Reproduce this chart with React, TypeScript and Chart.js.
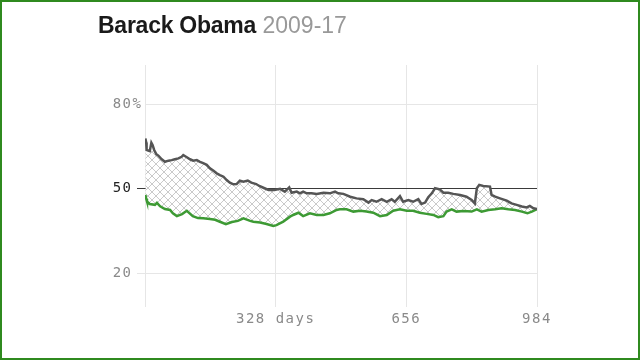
import React, { useEffect, useRef } from 'react';
import { Chart, registerables } from 'chart.js';

Chart.register(...registerables);

const titleName = 'Barack Obama';
const titleYears = '2009-17';

const approveDays = [1, 3, 4, 8, 12, 16, 19, 23, 28, 34, 42, 50, 59, 67, 75, 84, 92, 96, 105, 113, 121, 130, 138, 146, 155, 163, 172, 180, 188, 197, 205, 213, 222, 230, 238, 247, 258, 267, 279, 287, 300, 310, 325, 339, 351, 362, 368, 381, 389, 397, 406, 418, 431, 448, 464, 477, 485, 498, 515, 531, 548, 561, 569, 581, 594, 607, 619, 627, 640, 648, 661, 673, 686, 694, 703, 711, 720, 728, 740, 749, 761, 774, 791, 807, 820, 828, 833, 839, 849, 866, 870, 879, 891, 908, 920, 933, 946, 958, 966, 975, 984];
const approveValues = [67.9, 66.5, 63.8, 63.6, 63.4, 66.4, 65.6, 63.8, 62.4, 61.7, 60.5, 59.6, 60.0, 60.2, 60.5, 60.8, 61.4, 62.0, 61.2, 60.5, 60.0, 60.2, 59.6, 59.1, 58.5, 57.3, 56.4, 55.5, 54.9, 54.3, 53.1, 52.2, 51.6, 51.7, 52.9, 52.5, 52.9, 52.2, 51.7, 51.0, 50.2, 49.6, 49.6, 50.0, 49.0, 50.5, 48.6, 49.0, 48.4, 49.0, 48.4, 48.4, 48.2, 48.6, 48.4, 49.0, 48.4, 48.2, 47.2, 46.6, 46.3, 45.1, 46.0, 45.4, 46.3, 45.4, 46.3, 45.4, 47.4, 45.4, 46.0, 45.4, 46.3, 44.6, 45.1, 47.0, 48.4, 50.2, 49.8, 48.6, 48.6, 48.2, 47.8, 47.2, 46.0, 44.8, 50.2, 51.4, 51.0, 50.8, 47.8, 47.2, 46.6, 45.8, 44.8, 44.3, 43.7, 43.4, 43.9, 43.1, 42.8];

const disapproveDays = [1, 3, 5, 12, 25, 30, 38, 50, 63, 70, 80, 93, 105, 120, 133, 146, 163, 176, 188, 203, 218, 233, 247, 264, 272, 289, 305, 322, 330, 347, 364, 372, 385, 397, 414, 431, 448, 464, 481, 489, 506, 523, 540, 556, 573, 590, 607, 623, 640, 657, 673, 690, 707, 724, 736, 749, 757, 770, 782, 799, 820, 833, 845, 862, 879, 895, 912, 929, 946, 960, 971, 984];
const disapproveValues = [47.8, 46.5, 45.5, 44.6, 44.3, 45.0, 43.8, 42.8, 42.5, 41.3, 40.3, 41.0, 42.2, 40.3, 39.6, 39.5, 39.3, 39.0, 38.3, 37.4, 38.2, 38.6, 39.5, 38.6, 38.3, 38.0, 37.5, 36.8, 37.1, 38.3, 40.1, 40.7, 41.5, 40.3, 41.3, 40.7, 40.7, 41.3, 42.5, 42.7, 42.7, 41.9, 42.2, 41.9, 41.5, 40.3, 40.7, 42.2, 42.7, 42.2, 42.2, 41.5, 41.1, 40.7, 39.9, 40.3, 41.9, 42.7, 41.9, 42.1, 41.9, 42.7, 41.9, 42.5, 42.7, 43.1, 42.7, 42.5, 41.9, 41.3, 41.9, 42.8];

const xTicks = [0, 328, 656, 984];
const xTickLabels = ['', '328 days', '656', '984'];
const yTicks = [20, 50, 80];
const yTickLabels = ['20', '50', '80'];
const yMin = 8;
const yMax = 94;

const TICK_FONT = 'DejaVu Sans Mono';
const TICK_SIZE = 14;
const Y_TICK_LEN = 8;
const Y_TICK_PAD = 4.5;

function makePattern(): CanvasPattern | string {
  const n = 8;
  const c = document.createElement('canvas');
  c.width = n;
  c.height = n;
  const g = c.getContext('2d');
  if (!g) return '#e4e4e4';
  g.fillStyle = '#ffffff';
  g.fillRect(0, 0, n, n);
  g.strokeStyle = '#cacaca';
  g.lineWidth = 1;
  g.beginPath();
  g.moveTo(0, 0);
  g.lineTo(n, n);
  g.moveTo(n, 0);
  g.lineTo(0, n);
  g.stroke();
  return g.createPattern(c, 'repeat') || '#e4e4e4';
}

const extrasPlugin = {
  id: 'extras',
  beforeDraw(chart: any) {
    chart.ctx.letterSpacing = '1.5px';
  },
  afterDraw(chart: any) {
    const ys = chart.scales.y;
    const ctx = chart.ctx;
    ctx.save();
    ctx.letterSpacing = '1.5px';
    ctx.font = `${TICK_SIZE}px "${TICK_FONT}"`;
    ctx.fillStyle = '#8a8a8a';
    ctx.textAlign = 'left';
    ctx.textBaseline = 'middle';
    ctx.fillText('%', ys.right - Y_TICK_LEN - Y_TICK_PAD, ys.getPixelForValue(yTicks[2]));
    ctx.restore();
  },
};

export default function App() {
  const ref = useRef<HTMLCanvasElement>(null);

  useEffect(() => {
    document.body.style.margin = '0';
    if (!ref.current) return;
    const pattern = makePattern();
    const chart = new Chart(ref.current, {
      type: 'line',
      data: {
        datasets: [
          {
            label: 'Approve',
            data: approveDays.map((d, i) => ({ x: d, y: approveValues[i] })),
            borderColor: '#555555',
            borderWidth: 2.5,
            pointRadius: 0,
            tension: 0,
            fill: '+1',
            backgroundColor: pattern as any,
          },
          {
            label: 'Disapprove',
            data: disapproveDays.map((d, i) => ({ x: d, y: disapproveValues[i] })),
            borderColor: '#3d9a34',
            borderWidth: 2.5,
            pointRadius: 0,
            tension: 0,
            fill: false,
          },
        ],
      },
      options: {
        animation: false,
        responsive: false,
        maintainAspectRatio: false,
        events: [],
        layout: { padding: { left: 95, right: 103, top: 65, bottom: 23 } },
        plugins: {
          legend: { display: false },
          tooltip: { enabled: false },
          title: { display: false },
          filler: { drawTime: 'beforeDatasetsDraw' },
        } as any,
        scales: {
          x: {
            type: 'linear',
            min: 0,
            max: 984,
            afterFit: (s: any) => { s.height = 30; },
            afterBuildTicks: (s: any) => { s.ticks = xTicks.map((v) => ({ value: v })); },
            border: { display: false },
            grid: { color: '#e6e6e6', lineWidth: 1, drawTicks: false },
            ticks: {
              autoSkip: false,
              maxRotation: 0,
              padding: 4,
              color: '#8a8a8a',
              font: { family: TICK_FONT, size: TICK_SIZE },
              callback: (_v: any, i: number) => xTickLabels[i],
            },
          },
          y: {
            type: 'linear',
            min: yMin,
            max: yMax,
            z: 1,
            afterFit: (s: any) => { s.width = 50; },
            afterBuildTicks: (s: any) => { s.ticks = yTicks.map((v) => ({ value: v })); },
            border: { display: false },
            grid: {
              lineWidth: 1,
              tickLength: Y_TICK_LEN,
              color: (c: any) => (c.tick && c.tick.value === 50 ? '#3a3a3a' : '#e6e6e6'),
              tickColor: (c: any) =>
                c.tick && c.tick.value === 80 ? 'rgba(0,0,0,0)' : c.tick && c.tick.value === 50 ? '#3a3a3a' : '#e6e6e6',
            },
            ticks: {
              padding: Y_TICK_PAD,
              color: (c: any) => (c.tick && c.tick.value === 50 ? '#222222' : '#8a8a8a'),
              font: { family: TICK_FONT, size: TICK_SIZE },
              callback: (_v: any, i: number) => yTickLabels[i],
            },
          },
        },
      },
      plugins: [extrasPlugin],
    });
    return () => chart.destroy();
  }, []);

  return (
    <div style={{ position: 'relative', width: 640, height: 360, background: '#fff', overflow: 'hidden' }}>
      <canvas ref={ref} width={640} height={360} style={{ position: 'absolute', left: 0, top: 0, width: 640, height: 360 }} />
      <div
        style={{
          position: 'absolute',
          left: 98,
          top: 12,
          fontFamily: '"Liberation Sans", Arial, sans-serif',
          fontSize: 23,
          lineHeight: '26px',
          whiteSpace: 'nowrap',
        }}
      >
        <span style={{ fontWeight: 'bold', color: '#1a1a1a', letterSpacing: '-0.25px' }}>{titleName}</span>{' '}
        <span style={{ color: '#999' }}>{titleYears}</span>
      </div>
      <div
        style={{
          position: 'absolute',
          left: 0,
          top: 0,
          width: 640,
          height: 360,
          boxSizing: 'border-box',
          border: '2px solid #2f8a1f',
          pointerEvents: 'none',
        }}
      />
    </div>
  );
}
